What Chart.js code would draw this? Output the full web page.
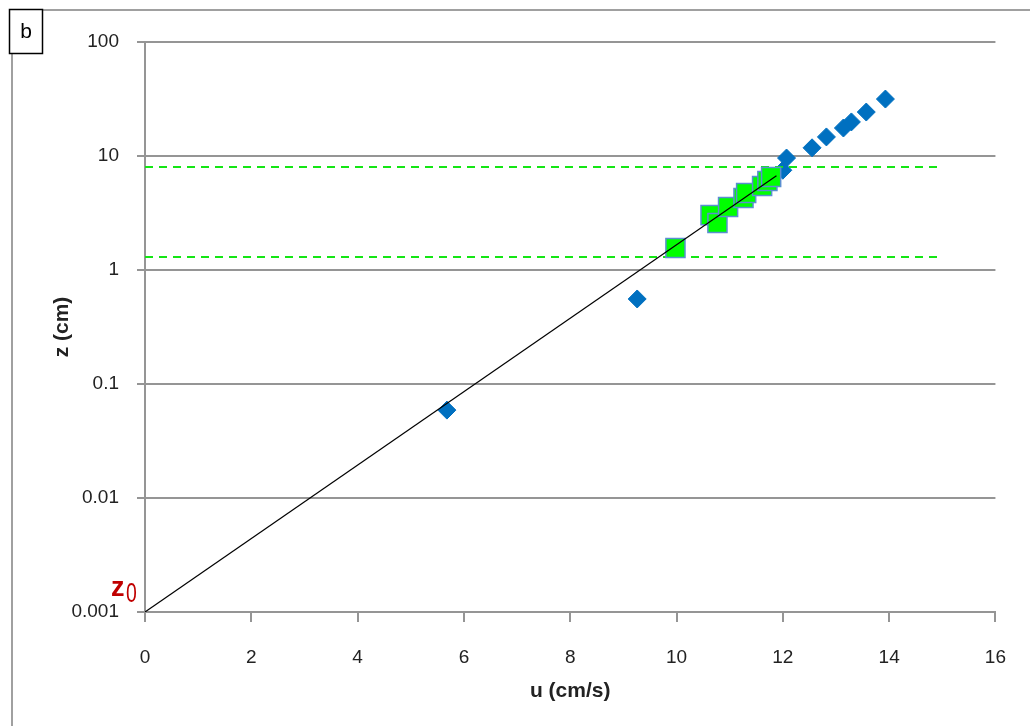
<!DOCTYPE html>
<html>
<head>
<meta charset="utf-8">
<script src="https://cdn.jsdelivr.net/npm/chart.js@4"></script>
<style>
  html, body { margin: 0; padding: 0; background: #fff; }
  #wrap { position: relative; width: 1030px; height: 726px; }
</style>
</head>
<body>
<div id="wrap"><canvas id="chart"></canvas></div>
<script>
// measured points (u in cm/s, z in cm)
const blueU = [5.68, 9.26, 9.98, 10.64, 10.77, 10.97, 11.26, 11.31, 11.61, 11.71, 11.78, 12.0, 12.07, 12.55, 12.82, 13.14, 13.29, 13.57, 13.93];
const blueZ = [0.059, 0.557, 1.56, 3.03, 2.58, 3.57, 4.28, 4.73, 5.46, 6.04, 6.55, 7.5, 9.6, 11.8, 14.7, 17.6, 19.9, 24.3, 31.6];

// points used for the log fit
const fitU = [9.98, 10.64, 10.77, 10.97, 11.26, 11.31, 11.61, 11.71, 11.78];
const fitZ = [1.56, 3.03, 2.58, 3.57, 4.28, 4.73, 5.46, 6.04, 6.55];

// log-law fit line, from z0 up to the top of the fit range
const lineU = [0, 11.88];
const lineZ = [0.001, 6.7];

// limits of the fit layer
const bandU = [0, 15];
const bandLow = 1.3;
const bandHigh = 8.0;

const xTicks = [0, 2, 4, 6, 8, 10, 12, 14, 16];
const yTicks = [0.001, 0.01, 0.1, 1, 10, 100];

const pts = (xs, ys) => xs.map((x, i) => ({ x, y: ys[i] }));

const gridGray = '#959595';
const labelFont = { family: 'Liberation Sans', size: 19 };

const framePlugin = {
    id: 'frame',
    afterDraw: (chart) => {
        const ctx = chart.ctx;
        const xs = chart.scales.x;
        const ys = chart.scales.y;
        ctx.save();

        // outer frame (left and top edges only)
        ctx.strokeStyle = '#a0a0a0';
        ctx.lineWidth = 2;
        ctx.beginPath();
        ctx.moveTo(12, 726);
        ctx.lineTo(12, 10);
        ctx.lineTo(1030, 10);
        ctx.stroke();

        // panel letter
        ctx.fillStyle = '#fff';
        ctx.fillRect(9, 9, 34, 45);
        ctx.strokeStyle = '#000';
        ctx.lineWidth = 1.5;
        ctx.strokeRect(9.5, 9.5, 33, 44);
        ctx.fillStyle = '#000';
        ctx.font = '21px "Liberation Sans"';
        ctx.textAlign = 'center';
        ctx.textBaseline = 'middle';
        ctx.fillText('b', 26, 32);

        // z0 marker
        const x0 = xs.getPixelForValue(0);
        const y0 = ys.getPixelForValue(0.001);
        ctx.fillStyle = '#c00000';
        ctx.textAlign = 'left';
        ctx.textBaseline = 'alphabetic';
        ctx.font = 'bold 27px "Liberation Sans"';
        ctx.fillText('z', x0 - 34, y0 - 16);
        ctx.save();
        ctx.translate(x0 - 19, y0 - 10);
        ctx.scale(0.72, 1);
        ctx.font = '27px "Liberation Sans"';
        ctx.fillText('0', 0, 0);
        ctx.restore();
        ctx.restore();
    }
};

new Chart(document.getElementById('chart'), {
    type: 'scatter',
    plugins: [framePlugin],
    data: {
        datasets: [
            {
                label: 'fit',
                type: 'line',
                data: pts(lineU, lineZ),
                borderColor: '#000',
                borderWidth: 1.2,
                pointRadius: 0,
                fill: false,
                order: 0
            },
            {
                label: 'fit range',
                data: pts(fitU, fitZ),
                pointStyle: 'rect',
                pointRadius: 13.5,
                backgroundColor: '#00ff00',
                borderColor: '#5a8fd0',
                borderWidth: 1.5,
                order: 1
            },
            {
                label: 'upper',
                type: 'line',
                data: pts(bandU, [bandHigh, bandHigh]),
                borderColor: '#14e614',
                borderWidth: 2,
                borderDash: [8, 6],
                pointRadius: 0,
                fill: false,
                order: 2
            },
            {
                label: 'lower',
                type: 'line',
                data: pts(bandU, [bandLow, bandLow]),
                borderColor: '#14e614',
                borderWidth: 2,
                borderDash: [8, 6],
                pointRadius: 0,
                fill: false,
                order: 2
            },
            {
                label: 'data',
                data: pts(blueU, blueZ),
                pointStyle: 'rectRot',
                pointRadius: 9,
                backgroundColor: '#0070c0',
                borderColor: '#0070c0',
                borderWidth: 1,
                order: 3
            }
        ]
    },
    options: {
        responsive: true,
        maintainAspectRatio: false,
        animation: false,
        events: [],
        layout: { padding: { top: 42, right: 34, left: 0, bottom: 0 } },
        plugins: {
            legend: { display: false },
            tooltip: { enabled: false }
        },
        scales: {
            x: {
                type: 'linear',
                min: 0,
                max: 16,
                afterFit: (scale) => { scale.height = 114; },
                afterBuildTicks: (scale) => { scale.ticks = xTicks.map(v => ({ value: v })); },
                grid: { drawOnChartArea: false, drawTicks: true, tickLength: 10, color: gridGray, lineWidth: 2 },
                border: { display: true, color: gridGray, width: 2 },
                ticks: { color: '#222', font: labelFont, padding: 24, maxRotation: 0 },
                title: {
                    display: true,
                    text: 'u (cm/s)',
                    color: '#222',
                    font: { family: 'Liberation Sans', size: 21, weight: 'bold' },
                    padding: { top: 0, bottom: 22 }
                }
            },
            y: {
                type: 'logarithmic',
                min: 0.001,
                max: 100,
                afterFit: (scale) => { scale.width = 145; },
                afterBuildTicks: (scale) => { scale.ticks = yTicks.map(v => ({ value: v })); },
                grid: { color: gridGray, lineWidth: 2, tickLength: 8 },
                border: { display: true, color: gridGray, width: 2 },
                ticks: {
                    color: '#222',
                    font: labelFont,
                    padding: 18,
                    callback: (v) => String(v)
                },
                title: {
                    display: true,
                    text: 'z (cm)',
                    color: '#222',
                    font: { family: 'Liberation Sans', size: 21, weight: 'bold' },
                    padding: { top: 50, bottom: 0 }
                }
            }
        }
    }
});
</script>
</body>
</html>
